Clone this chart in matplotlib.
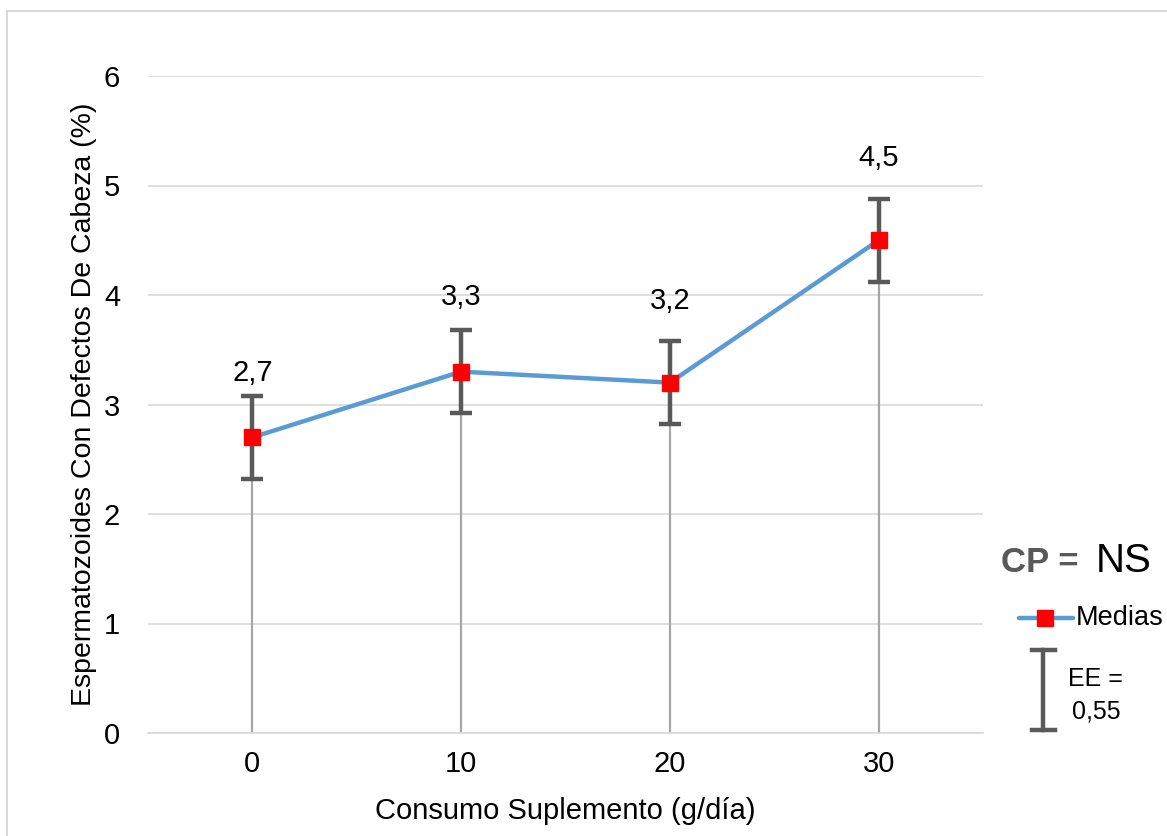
import numpy as np
import matplotlib.pyplot as plt
from matplotlib.lines import Line2D

# data
doses = ['0', '10', '20', '30']
medias = [2.7, 3.3, 3.2, 4.5]
ee = [0.38, 0.38, 0.38, 0.38]
value_labels = ['2,7', '3,3', '3,2', '4,5']

plt.rcParams['font.family'] = ['Liberation Sans', 'DejaVu Sans']

fig = plt.figure(figsize=(11.67, 8.36), dpi=100)
ax = fig.add_axes([148/1167, 1 - 733/836, (983-148)/1167, (733-76)/836])

x = np.arange(len(doses))

# drop lines to the axis
ax.vlines(x, 0, medias, color='#a6a6a6', lw=1.6, zorder=2)
ax.plot(x, medias, color='#5b9bd5', lw=3.2, zorder=3)
ax.errorbar(x, medias, yerr=ee, fmt='none', ecolor='#595959', elinewidth=3.2,
            capsize=8, capthick=3.2, zorder=4)
ax.plot(x, medias, ls='none', marker='s', ms=12, color='#ff0000', zorder=5)

# value labels (offsets in points, as placed in the original)
offsets = [46, 54, 59, 59]
for xi, yi, lab, off in zip(x, medias, value_labels, offsets):
    ax.annotate(lab, (xi, yi), textcoords='offset points', xytext=(0, off),
                ha='center', va='center', fontsize=21)

ax.set_xlim(-0.5, 3.5)
ax.set_ylim(0, 6)
ax.set_yticks(range(0, 7))
ax.set_xticks(x)
ax.set_xticklabels(doses)
ax.grid(axis='y', color='#d9d9d9', lw=1.2)
ax.set_axisbelow(True)
for s in ['top', 'right', 'left']:
    ax.spines[s].set_visible(False)
ax.spines['bottom'].set_color('#d9d9d9')
ax.spines['bottom'].set_linewidth(1.2)
ax.tick_params(length=0, labelsize=21, colors='black')
ax.tick_params(axis='y', pad=20)
ax.tick_params(axis='x', pad=12)
ax.set_xlabel('Consumo Suplemento (g/día)', fontsize=21, labelpad=14)
ax.set_ylabel('Espermatozoides Con Defectos De Cabeza (%)', fontsize=20.5, labelpad=5)

# outer chart frame
fig.add_artist(Line2D([7/1167, 7/1167], [0, 1 - 11/836], color='#d9d9d9', lw=1.5))
fig.add_artist(Line2D([7/1167, 1], [1 - 11/836, 1 - 11/836], color='#d9d9d9', lw=1.5))

# side annotations / legend
fig.text(1001/1167, 1 - 563/836, 'CP =', fontsize=25, fontweight='bold',
         color='#595959', va='center', ha='left')
fig.text(1096/1167, 1 - 561/836, 'NS', fontsize=29, color='black', va='center', ha='left')

fig.add_artist(Line2D([1019/1167, 1073/1167], [1 - 618/836, 1 - 618/836],
                      color='#5b9bd5', lw=3.2, solid_capstyle='round'))
fig.add_artist(Line2D([1045/1167], [1 - 618/836], ls='none', marker='s', ms=12,
                      color='#ff0000'))
fig.text(1076/1167, 1 - 618/836, 'Medias', fontsize=19.5, va='center', ha='left')

fig.add_artist(Line2D([1043/1167, 1043/1167], [1 - 650/836, 1 - 730/836],
                      color='#595959', lw=3.2))
for yy in [650, 730]:
    fig.add_artist(Line2D([1032/1167, 1055/1167], [1 - yy/836, 1 - yy/836],
                          color='#595959', lw=3.2))
fig.text(1068/1167, 1 - 679/836, 'EE =', fontsize=18, va='center', ha='left')
fig.text(1072/1167, 1 - 712/836, '0,55', fontsize=18, va='center', ha='left')

fig.savefig('out.png', dpi=100, facecolor='white')
